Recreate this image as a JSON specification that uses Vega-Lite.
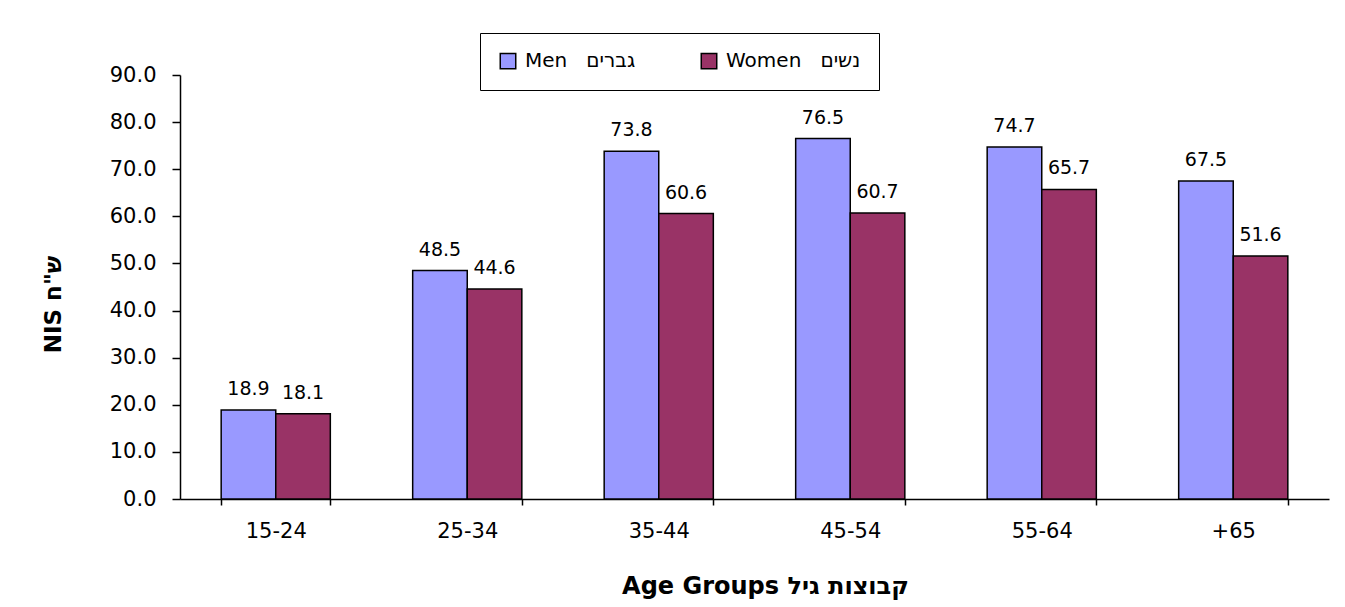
{
  "$schema": "https://vega.github.io/schema/vega-lite/v6.json",
  "width": 1149,
  "height": 424,
  "autosize": {"type": "none"},
  "padding": {"left": 180, "top": 75, "right": 16, "bottom": 108},
  "background": "white",
  "data": {
    "values": [
      {"age": "15-24", "sex": "Men גברים", "value": 18.9},
      {"age": "15-24", "sex": "Women נשים", "value": 18.1},
      {"age": "25-34", "sex": "Men גברים", "value": 48.5},
      {"age": "25-34", "sex": "Women נשים", "value": 44.6},
      {"age": "35-44", "sex": "Men גברים", "value": 73.8},
      {"age": "35-44", "sex": "Women נשים", "value": 60.6},
      {"age": "45-54", "sex": "Men גברים", "value": 76.5},
      {"age": "45-54", "sex": "Women נשים", "value": 60.7},
      {"age": "55-64", "sex": "Men גברים", "value": 74.7},
      {"age": "55-64", "sex": "Women נשים", "value": 65.7},
      {"age": "+65", "sex": "Men גברים", "value": 67.5},
      {"age": "+65", "sex": "Women נשים", "value": 51.6}
    ]
  },
  "encoding": {
    "x": {
      "field": "age",
      "type": "nominal",
      "sort": ["15-24", "25-34", "35-44", "45-54", "55-64", "+65"],
      "scale": {"paddingInner": 0.43, "paddingOuter": 0.215},
      "axis": {
        "labelAngle": 0,
        "tickBand": "extent",
        "tickSize": 6,
        "labelPadding": 15,
        "labelFontSize": 21,
        "title": "Age Groups קבוצות גיל",
        "titleFontSize": 24,
        "titleX": 585,
        "titleY": 94,
        "titleBaseline": "alphabetic",
        "titleAlign": "center"
      }
    },
    "xOffset": {"field": "sex", "sort": ["Men גברים", "Women נשים"]},
    "y": {
      "field": "value",
      "type": "quantitative",
      "scale": {"domain": [0, 90], "nice": false},
      "axis": {
        "values": [0, 10, 20, 30, 40, 50, 60, 70, 80, 90],
        "format": ".1f",
        "grid": false,
        "tickSize": 8,
        "labelPadding": 16,
        "labelFontSize": 21,
        "title": "NIS ש\"ח",
        "titleFontSize": 23,
        "titleX": -120,
        "titleY": 229,
        "titleBaseline": "alphabetic",
        "titleAlign": "center",
        "titleAngle": 270
      }
    }
  },
  "layer": [
    {
      "mark": {"type": "bar", "stroke": "black", "strokeWidth": 1.5},
      "encoding": {
        "color": {
          "field": "sex",
          "type": "nominal",
          "sort": ["Men גברים", "Women נשים"],
          "scale": {"domain": ["Men גברים", "Women נשים"], "range": ["#9999FF", "#993366"]},
          "legend": {
            "title": null,
            "orient": "none",
            "legendX": 300,
            "legendY": -42,
            "direction": "horizontal",
            "columns": 2,
            "columnPadding": 62,
            "padding": 18,
            "strokeColor": "black",
            "fillColor": "white",
            "symbolType": "square",
            "symbolSize": 240,
            "symbolStrokeColor": "black",
            "symbolStrokeWidth": 1.5,
            "symbolOpacity": 1,
            "labelFont": "DejaVu Sans",
            "labelFontSize": 20,
            "labelColor": "black",
            "labelOffset": 7,
            "labelLimit": 400,
            "labelExpr": "replace(datum.label, ' ', '\u00a0\u00a0\u00a0')"
          }
        }
      }
    },
    {
      "mark": {"type": "text", "baseline": "alphabetic", "dy": -15, "font": "DejaVu Sans", "fontSize": 19, "color": "black"},
      "encoding": {
        "text": {"field": "value", "type": "quantitative", "format": ".1f"}
      }
    }
  ],
  "config": {
    "view": {"stroke": null},
    "axis": {
      "domainColor": "black",
      "domainWidth": 1.5,
      "tickColor": "black",
      "tickWidth": 1.5,
      "labelFont": "DejaVu Sans",
      "labelColor": "black",
      "titleFont": "DejaVu Sans",
      "titleFontWeight": "bold",
      "titleColor": "black"
    }
  }
}
